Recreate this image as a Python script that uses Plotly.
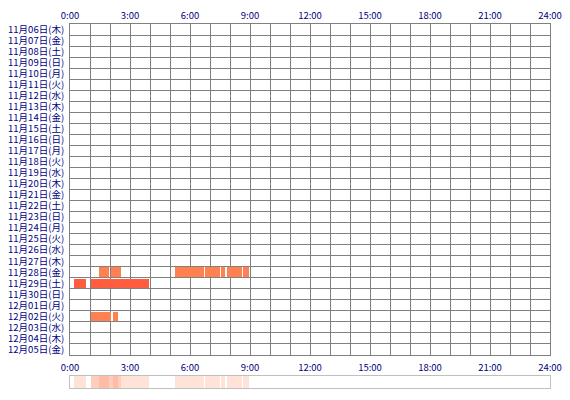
import plotly.graph_objects as go

# ---- data ----
day_labels = [
    "11月06日(木)", "11月07日(金)", "11月08日(土)", "11月09日(日)", "11月10日(月)",
    "11月11日(火)", "11月12日(水)", "11月13日(木)", "11月14日(金)", "11月15日(土)",
    "11月16日(日)", "11月17日(月)", "11月18日(火)", "11月19日(水)", "11月20日(木)",
    "11月21日(金)", "11月22日(土)", "11月23日(日)", "11月24日(月)", "11月25日(火)",
    "11月26日(水)", "11月27日(木)", "11月28日(金)", "11月29日(土)", "11月30日(日)",
    "12月01日(月)", "12月02日(火)", "12月03日(水)", "12月04日(木)", "12月05日(金)",
]
hour_ticks = [0, 3, 6, 9, 12, 15, 18, 21, 24]
hour_labels = ["0:00", "3:00", "6:00", "9:00", "12:00", "15:00", "18:00", "21:00", "24:00"]

# activity segments (day label, start hour, end hour)
seg_days = [
    "11月28日(金)", "11月28日(金)", "11月28日(金)", "11月28日(金)", "11月28日(金)",
    "11月28日(金)", "11月28日(金)",
    "11月29日(土)", "11月29日(土)",
    "12月02日(火)", "12月02日(火)",
]
seg_start = [1.45, 2.03, 5.27, 6.77, 7.55, 7.83, 8.65, 0.20, 1.03, 1.03, 2.17]
seg_end = [1.95, 2.57, 6.70, 7.48, 7.77, 8.60, 8.95, 0.80, 3.93, 2.05, 2.40]

# ---- styles ----
day_color = {"11月29日(土)": "#ff5c40"}
default_color = "#ff8050"
label_font = dict(family="Noto Sans CJK JP", size=9.5, color="#000080")
grid_color = "#808080"

row_index = {d: i for i, d in enumerate(day_labels)}

fig = go.Figure()

# main bars, one trace per colour group
for color in sorted(set(day_color.get(d, default_color) for d in seg_days)):
    ys, bases, widths = [], [], []
    for d, s, e in zip(seg_days, seg_start, seg_end):
        if day_color.get(d, default_color) == color:
            ys.append(row_index[d])
            bases.append(s)
            widths.append(e - s)
    fig.add_trace(go.Bar(
        y=ys, x=widths, base=bases, orientation="h", width=0.86,
        marker=dict(color=color, line=dict(width=0)),
        xaxis="x", yaxis="y", hoverinfo="skip", showlegend=False,
    ))

# summary strip (overlapping translucent bars)
fig.add_trace(go.Bar(
    y=[0.5] * len(seg_start),
    x=[e - s for s, e in zip(seg_start, seg_end)],
    base=seg_start, orientation="h", width=1,
    marker=dict(color="rgba(255,128,80,0.22)", line=dict(width=0)),
    xaxis="x2", yaxis="y2", hoverinfo="skip", showlegend=False,
))

# the page body adds an 8px offset, so margins are shifted by 8px
fig.update_layout(
    width=570, height=400,
    margin=dict(l=62, r=28, t=16, b=20, autoexpand=False),
    paper_bgcolor="white", plot_bgcolor="white",
    barmode="overlay", bargap=0,
    font=label_font,
    xaxis=dict(
        domain=[0, 1], anchor="y", side="top", range=[0, 24],
        tickmode="array", tickvals=hour_ticks, ticktext=hour_labels,
        ticks="", showgrid=True, gridcolor=grid_color, gridwidth=1,
        minor=dict(dtick=1, tick0=0, showgrid=True, gridcolor=grid_color, gridwidth=1),
        showline=True, linecolor=grid_color, linewidth=1, mirror=True,
        zeroline=False, tickfont=label_font, fixedrange=True, automargin=False,
    ),
    yaxis=dict(
        domain=[0.0907, 1], anchor="x", range=[29.5, -0.5],
        tickmode="array", tickvals=list(range(len(day_labels))), ticktext=day_labels,
        ticks="", showgrid=False,
        minor=dict(tick0=0.5, dtick=1, showgrid=True, gridcolor=grid_color, gridwidth=1),
        showline=True, linecolor=grid_color, linewidth=1, mirror=True,
        zeroline=False, tickfont=label_font, ticklabelstandoff=3, fixedrange=True,
        automargin=False,
    ),
    xaxis2=dict(
        domain=[0, 1], anchor="y2", side="top", range=[0, 24],
        tickmode="array", tickvals=hour_ticks, ticktext=hour_labels,
        ticks="", showgrid=False, zeroline=False,
        showline=True, linecolor="#c0c0c0", linewidth=1, mirror=True,
        tickfont=label_font, fixedrange=True, automargin=False,
    ),
    yaxis2=dict(
        domain=[0, 0.033], anchor="x2", range=[0, 1],
        showticklabels=False, ticks="", showgrid=False, zeroline=False,
        showline=True, linecolor="#c0c0c0", linewidth=1, mirror=True,
        fixedrange=True, automargin=False,
    ),
)

fig.write_html("out.html")
